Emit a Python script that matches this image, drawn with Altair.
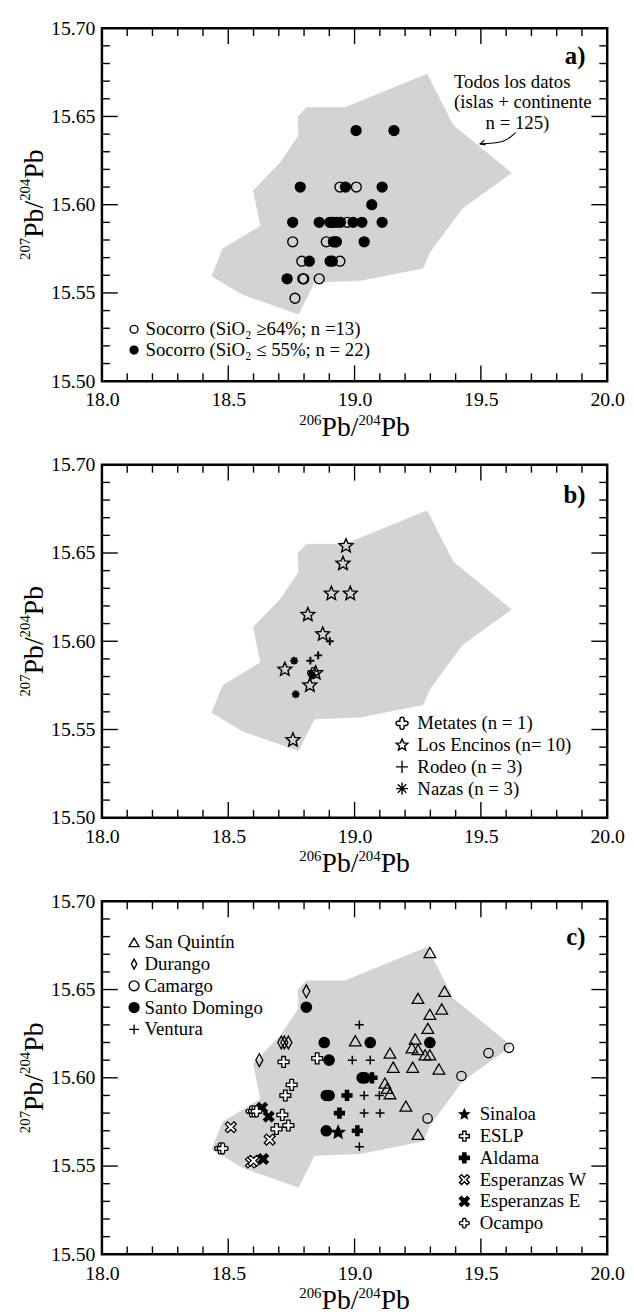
import math
import altair as alt
import pandas as pd

FONT = "Liberation Serif"
POLY_COLOR = "#d1d3d4"
W, H = 511, 357

# ---------------- axis ticks / labels ----------------
x_labels = [18.0, 18.5, 19.0, 19.5, 20.0]
y_labels = [15.50, 15.55, 15.60, 15.65, 15.70]
x_minor = [18.1, 18.2, 18.3, 18.4, 18.6, 18.7, 18.8, 18.9,
           19.1, 19.2, 19.3, 19.4, 19.6, 19.7, 19.8, 19.9]
y_minor = [15.51, 15.52, 15.53, 15.54, 15.56, 15.57, 15.58, 15.59,
           15.61, 15.62, 15.63, 15.64, 15.66, 15.67, 15.68, 15.69]
x_title = [("206", "sup"), ("Pb/", "big"), ("204", "sup"), ("Pb", "big")]
y_title = [("207", "sup"), ("Pb/", "big"), ("204", "sup"), ("Pb", "big")]

# ---------------- envelope of all data (islas + continente) ----------------
env_x = [18.435, 18.478, 18.628, 18.599, 18.707, 18.778, 18.776, 18.809, 18.962,
         19.287, 19.390, 19.621, 19.427, 19.298, 19.271, 19.022, 18.841, 18.806,
         18.778, 18.558, 18.435]
env_y = [15.5595, 15.575, 15.588, 15.608, 15.624, 15.639, 15.650, 15.655, 15.655,
         15.674, 15.645, 15.618, 15.598, 15.573, 15.564, 15.557, 15.556, 15.546,
         15.538, 15.549, 15.5595]

# ---------------- panel a: Socorro ----------------
soc_hi_x = [18.942, 19.007, 18.971, 18.755, 18.888, 18.791, 18.942, 18.795, 18.799,
            18.860, 18.764, 18.912, 18.925]
soc_hi_y = [15.610, 15.610, 15.590, 15.579, 15.579, 15.568, 15.568, 15.558, 15.558,
            15.558, 15.547, 15.590, 15.579]
soc_lo_x = [19.006, 19.156, 18.785, 18.964, 19.109, 19.068, 18.755, 18.860, 18.902,
            18.915, 18.928, 18.944, 18.994, 19.029, 19.109, 18.916, 18.928, 19.038,
            18.821, 18.903, 18.912, 18.733]
soc_lo_y = [15.642, 15.642, 15.610, 15.610, 15.610, 15.600, 15.590, 15.590, 15.590,
            15.590, 15.590, 15.590, 15.590, 15.590, 15.590, 15.579, 15.579, 15.579,
            15.568, 15.568, 15.568, 15.558]

# ---------------- panel b ----------------
metates_x = [18.836]
metates_y = [15.582]
encinos_x = [18.966, 18.954, 18.908, 18.983, 18.815, 18.874, 18.724, 18.846, 18.823, 18.756]
encinos_y = [15.654, 15.644, 15.627, 15.627, 15.615, 15.604, 15.584, 15.582, 15.575, 15.544]
rodeo_x = [18.902, 18.825, 18.856]
rodeo_y = [15.600, 15.589, 15.592]
nazas_x = [18.761, 18.767, 18.831]
nazas_y = [15.589, 15.570, 15.581]

# ---------------- panel c ----------------
sq_x = [19.298, 19.251, 19.356, 19.298, 19.345, 19.290, 19.240, 19.227, 19.251, 19.279,
        19.298, 19.003, 19.140, 19.153, 19.230, 19.334, 19.120, 19.129, 19.140, 19.203, 19.251]
sq_y = [15.671, 15.645, 15.649, 15.636, 15.639, 15.628, 15.622, 15.617, 15.616, 15.613,
        15.613, 15.621, 15.614, 15.606, 15.606, 15.605, 15.597, 15.594, 15.591, 15.584, 15.568]
dur_x = [18.809, 18.623, 18.710, 18.722, 18.738]
dur_y = [15.649, 15.610, 15.620, 15.620, 15.620]
cam_x = [19.611, 19.530, 19.423, 19.289]
cam_y = [15.617, 15.614, 15.601, 15.577]
sd_x = [18.809, 18.880, 19.062, 19.298, 18.899, 19.030, 19.041, 18.888, 18.899, 18.888]
sd_y = [15.640, 15.620, 15.620, 15.620, 15.610, 15.600, 15.600, 15.590, 15.590, 15.570]
ven_x = [19.019, 18.991, 19.062, 19.038, 19.098, 19.038, 19.101, 19.019]
ven_y = [15.630, 15.610, 15.610, 15.590, 15.590, 15.580, 15.580, 15.561]
sin_x = [18.935]
sin_y = [15.569]
eslp_x = [18.852, 18.719, 18.751, 18.726, 18.714, 18.691, 18.738]
eslp_y = [15.611, 15.609, 15.596, 15.590, 15.579, 15.571, 15.573]
ald_x = [19.069, 18.970, 18.940, 19.011]
ald_y = [15.600, 15.590, 15.580, 15.570]
ew_x = [18.510, 18.664, 18.590, 18.600]
ew_y = [15.572, 15.565, 15.552, 15.553]
ee_x = [18.634, 18.660, 18.638]
ee_y = [15.583, 15.578, 15.554]
oca_x = [18.468, 18.478, 18.592, 18.602, 18.612]
oca_y = [15.560, 15.560, 15.581, 15.581, 15.581]

# ---------------- symbol shapes ----------------
def star_path(inner=0.45):
    pts = []
    for k in range(10):
        r = 1.0 if k % 2 == 0 else inner
        a = -math.pi / 2 + k * math.pi / 5
        pts.append((r * math.cos(a), r * math.sin(a)))
    return "M" + " L".join(f"{px:.3f},{py:.3f}" for px, py in pts) + " Z"


def cross_pts(a, L):
    return [(-a, -L), (a, -L), (a, -a), (L, -a), (L, a), (a, a), (a, L), (-a, L),
            (-a, a), (-L, a), (-L, -a), (-a, -a)]


def poly_path(pts):
    return "M" + " L".join(f"{px:.3f},{py:.3f}" for px, py in pts) + " Z"


def xcross_path(a=0.3):
    L = math.sqrt(2) - a
    s = 1 / math.sqrt(2)
    pts = [((px - py) * s, (px + py) * s) for px, py in cross_pts(a, L)]
    return poly_path(pts)


STAR = star_path()
CROSS = poly_path(cross_pts(0.33, 1.0))
XCROSS = xcross_path()
PLUS = "M-1,0 L1,0 M0,-1 L0,1"
AST = "M-1,0 L1,0 M0,-1 L0,1 M-0.7,-0.7 L0.7,0.7 M-0.7,0.7 L0.7,-0.7"
QUAT = ("M-0.35,-0.35 L-0.35,-0.65 A0.35,0.35 0 0 1 0.35,-0.65 L0.35,-0.35 "
        "L0.65,-0.35 A0.35,0.35 0 0 1 0.65,0.35 L0.35,0.35 L0.35,0.65 "
        "A0.35,0.35 0 0 1 -0.35,0.65 L-0.35,0.35 L-0.65,0.35 "
        "A0.35,0.35 0 0 1 -0.65,-0.35 Z")
DIAM = "M0,-1 L0.55,0 L0,1 L-0.55,0 Z"

# ---------------- encodings ----------------
xscale = alt.Scale(domain=[18.0, 20.0], nice=False, zero=False)
yscale = alt.Scale(domain=[15.50, 15.70], nice=False, zero=False)
xaxis = alt.Axis(values=x_labels, format=".1f", ticks=False, tickSize=0, domain=False,
                 grid=False, labelFont=FONT, labelFontSize=20, labelColor="black",
                 labelPadding=9, labelFlush=False, labelOverlap=False, title=None)
yaxis = alt.Axis(values=y_labels, format=".2f", ticks=False, tickSize=0, domain=False,
                 grid=False, labelFont=FONT, labelFontSize=20, labelColor="black",
                 labelPadding=7, labelFlush=False, labelOverlap=False, title=None)
XENC = alt.X("x:Q", scale=xscale, axis=xaxis)
YENC = alt.Y("y:Q", scale=yscale, axis=yaxis)
ONE = pd.DataFrame({"k": [0]})
MAJ, MIN, TW = 16, 8, 1.4
BIG, SUP = 28, 15
TITLE_BASE, SUP_BASE = 55, 44
CHAR_W = {"0": 0.5, "2": 0.5, "4": 0.5, "6": 0.5, "7": 0.5, "P": 0.556, "b": 0.5, "/": 0.278}


def envelope():
    df = pd.DataFrame({"x": env_x, "y": env_y, "i": list(range(len(env_x)))})
    return alt.Chart(df).mark_line(fill=POLY_COLOR, stroke=POLY_COLOR, strokeWidth=0.5,
                                   fillOpacity=1).encode(
        x=XENC, y=YENC, order=alt.Order("i:Q"))


def tick_rules():
    layers = []
    for vals, ln in ((x_labels, MAJ), (x_minor, MIN)):
        base = alt.Chart(pd.DataFrame({"x": vals})).mark_rule(color="black", strokeWidth=TW)
        layers.append(base.encode(x=XENC, y=alt.value(H), y2=alt.value(H - ln)))
        layers.append(base.encode(x=XENC, y=alt.value(0), y2=alt.value(ln)))
    for vals, ln in ((y_labels, MAJ), (y_minor, MIN)):
        base = alt.Chart(pd.DataFrame({"y": vals})).mark_rule(color="black", strokeWidth=TW)
        layers.append(base.encode(y=YENC, x=alt.value(0), x2=alt.value(ln)))
        layers.append(base.encode(y=YENC, x=alt.value(W), x2=alt.value(W - ln)))
    return layers


def text_mark(txt, x, y, size=19, weight="normal", align="left", angle=0):
    return alt.Chart(ONE).mark_text(text=txt, font=FONT, fontSize=size, fontWeight=weight,
                                    align=align, baseline="alphabetic", color="black",
                                    angle=angle).encode(
        x=alt.value(x), y=alt.value(y))


def piece_width(txt, kind):
    fs = BIG if kind == "big" else SUP
    return sum(CHAR_W[c] for c in txt) * fs


def axis_titles():
    layers = []
    total = sum(piece_width(t, k) for t, k in x_title)
    pos = W / 2 - total / 2
    for t, k in x_title:
        yb = H + TITLE_BASE if k == "big" else H + SUP_BASE
        layers.append(text_mark(t, pos, yb, size=BIG if k == "big" else SUP))
        pos += piece_width(t, k)
    total = sum(piece_width(t, k) for t, k in y_title)
    pos = H / 2 + total / 2
    for t, k in y_title:
        xb = -60 if k == "big" else -73
        layers.append(text_mark(t, xb, pos, size=BIG if k == "big" else SUP, angle=270))
        pos -= piece_width(t, k)
    return layers


def points(series, lx, ly, sym_size, row_pad, label_off):
    """series: list of (name, xs, ys, shape, fill, size, strokeWidth)"""
    rows = []
    for name, xs, ys, shp, fil, sz, sw in series:
        for xv, yv in zip(xs, ys):
            rows.append({"x": xv, "y": yv, "s": name, "sz": sz, "sw": sw})
    df = pd.DataFrame(rows)
    names = [s[0] for s in series]
    legend = alt.Legend(orient="none", legendX=lx, legendY=ly, title=None,
                        labelFont=FONT, labelFontSize=19, labelColor="black",
                        labelLimit=400, labelOffset=label_off, padding=0, rowPadding=row_pad,
                        symbolSize=sym_size, symbolStrokeWidth=1.4, symbolOpacity=1)
    return alt.Chart(df).mark_point(opacity=1, strokeOpacity=1, fillOpacity=1).encode(
        x=XENC, y=YENC,
        shape=alt.Shape("s:N", scale=alt.Scale(domain=names, range=[s[3] for s in series]),
                        legend=legend),
        fill=alt.Fill("s:N", scale=alt.Scale(domain=names, range=[s[4] for s in series]),
                      legend=legend),
        stroke=alt.Stroke("s:N", scale=alt.Scale(domain=names, range=["black"] * len(names)),
                          legend=legend),
        size=alt.Size("sz:Q", scale=None),
        strokeWidth=alt.StrokeWidth("sw:Q", scale=None),
    )


T = "transparent"
K = "black"
WH = "white"

# ---------------- panel a ----------------
pa_pts = points([
    ("Socorro (SiO₂ ≥64%; n =13)", soc_hi_x, soc_hi_y, "circle", T, 100, 1.4),
    ("Socorro (SiO₂ ≤ 55%; n = 22)", soc_lo_x, soc_lo_y, "circle", K, 100, 1.4),
], 23, 295, 64, 1, 2)

arrow_x = [19.637, 19.585, 19.497]
arrow_y = [15.6408, 15.6358, 15.6345]
arrow = alt.Chart(pd.DataFrame({"x": arrow_x, "y": arrow_y})).mark_line(
    color="black", strokeWidth=1.2, interpolate="cardinal").encode(x=XENC, y=YENC)
arrow_head = alt.Chart(pd.DataFrame({"x": arrow_x[-1:], "y": arrow_y[-1:]})).mark_point(
    shape="M2,-1 L0,0 L2,1", size=25, stroke="black", strokeWidth=1.2, fill="transparent",
    opacity=1, angle=345).encode(x=XENC, y=YENC)

panel_a = alt.layer(
    envelope(), *tick_rules(), pa_pts, arrow, arrow_head,
    text_mark("Todos los datos", 356, 60),
    text_mark("(islas + continente", 356, 81),
    text_mark("n = 125)", 388, 102),
    text_mark("a)", 489, 36, size=25, weight="bold", align="right"),
    *axis_titles(),
).properties(width=W, height=H)

# ---------------- panel b ----------------
pb_pts = points([
    ("Metates (n = 1)", metates_x, metates_y, QUAT, T, 121, 1.4),
    ("Los Encinos (n= 10)", encinos_x, encinos_y, STAR, T, 216, 1.4),
    ("Rodeo (n = 3)", rodeo_x, rodeo_y, PLUS, T, 64, 2.0),
    ("Nazas (n = 3)", nazas_x, nazas_y, AST, T, 64, 2.0),
], 294, 252, 150, 2, 6)

panel_b = alt.layer(
    envelope(), *tick_rules(), pb_pts,
    text_mark("b)", 489, 39, size=25, weight="bold", align="right"),
    *axis_titles(),
).properties(width=W, height=H)

# ---------------- panel c ----------------
pc_pts_a = points([
    ("San Quintín", sq_x, sq_y, "triangle-up", T, 140, 1.3),
    ("Durango", dur_x, dur_y, DIAM, T, 169, 1.3),
    ("Camargo", cam_x, cam_y, "circle", T, 90, 1.3),
    ("Santo Domingo", sd_x, sd_y, "circle", K, 110, 1.3),
    ("Ventura", ven_x, ven_y, PLUS, T, 81, 1.5),
], 23, 32, 100, 2, 1)
pc_pts_b = points([
    ("Sinaloa", sin_x, sin_y, STAR, K, 180, 1.3),
    ("ESLP", eslp_x, eslp_y, CROSS, WH, 121, 1.3),
    ("Aldama", ald_x, ald_y, CROSS, K, 100, 1.3),
    ("Esperanzas W", ew_x, ew_y, XCROSS, WH, 121, 1.3),
    ("Esperanzas E", ee_x, ee_y, XCROSS, K, 110, 1.3),
    ("Ocampo", oca_x, oca_y, QUAT, WH, 121, 1.3),
], 357, 206, 100, 2, 6)

panel_c = alt.layer(
    envelope(), *tick_rules(), pc_pts_a, pc_pts_b,
    text_mark("c)", 489, 44, size=25, weight="bold", align="right"),
    *axis_titles(),
).resolve_scale(shape="independent", fill="independent", stroke="independent"
).properties(width=W, height=H)

chart = alt.vconcat(panel_a, panel_b, panel_c, spacing=9.5).resolve_scale(
    shape="independent", fill="independent", stroke="independent"
).properties(
    padding={"left": 8, "top": 1, "right": 0, "bottom": -5}
).configure_view(
    stroke="black", strokeWidth=2.5
).configure_text(font=FONT)

chart.save("out.html", embed_options={"renderer": "svg", "actions": False})
